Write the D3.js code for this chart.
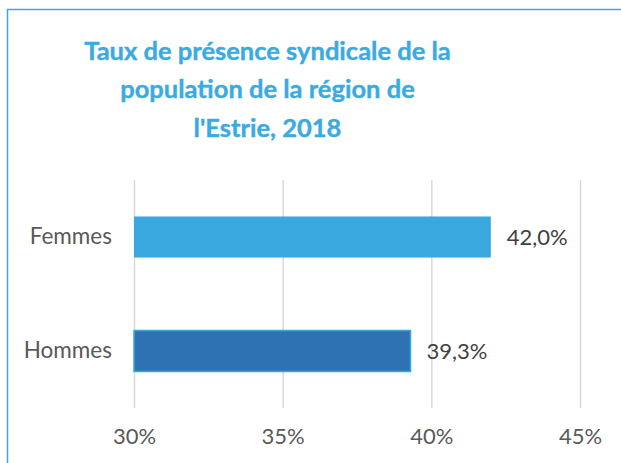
<!DOCTYPE html>
<html>
<head>
<meta charset="utf-8">
<script src="https://cdn.jsdelivr.net/npm/d3@7"></script>
<style>
  html, body { margin: 0; padding: 0; background: #fff; }
  svg { display: block; }
  text { font-family: Lato, "Open Sans", sans-serif; }
</style>
</head>
<body>
<svg id="chart" width="621" height="463"></svg>
<script>
const categories = ["Femmes", "Hommes"];
const values = [42.0, 39.3];
const barColors = ["#38a8df", "#2e72b4"];
const tickValues = [30, 35, 40, 45];
const titleLines = ["Taux de présence syndicale de la", "population de la région de", "l'Estrie, 2018"];

const svg = d3.select("#chart");
const margin = {left: 134, right: 41, top: 180, bottom: 55};
const width = 621, height = 463;

const x = d3.scaleLinear()
  .domain([30, 45])
  .range([margin.left, width - margin.right]);

const y = d3.scaleBand()
  .domain(categories)
  .range([margin.top, height - margin.bottom])
  .paddingInner(0.64)
  .paddingOuter(0.32);

const fr = d3.formatLocale({decimal: ",", thousands: " ", grouping: [3], currency: ["", " $"]});
const fmt = fr.format(".1f");

// chart border (only left and top fall in the frame)
svg.append("path")
  .attr("d", "M7.5,463V9.5H621")
  .attr("fill", "none")
  .attr("stroke", "#3aa8df")
  .attr("stroke-width", 1.5);

// title
svg.append("g").selectAll("text").data(titleLines)
  .join("text")
  .attr("x", 267.5)
  .attr("y", (d, i) => 59.5 + i * 38.7)
  .attr("text-anchor", "middle")
  .attr("font-size", 25.5)
  .attr("font-weight", "bold")
  .attr("fill", "#3aabe2")
  .attr("stroke", "#3aabe2")
  .attr("stroke-width", 0.4)
  .text(d => d);

// gridlines
svg.append("g")
  .attr("transform", `translate(0,${height - margin.bottom})`)
  .call(d3.axisBottom(x).tickValues(tickValues).tickSize(-(height - margin.bottom - margin.top)).tickFormat(""))
  .call(g => g.select(".domain").remove())
  .call(g => g.selectAll("line").attr("stroke", "#d9d9d9").attr("stroke-width", 1.5));

// x axis labels
svg.append("g")
  .attr("transform", `translate(0,${height - margin.bottom})`)
  .call(d3.axisBottom(x).tickValues(tickValues).tickSize(0).tickPadding(20).tickFormat(d => d + "%"))
  .call(g => g.select(".domain").remove())
  .call(g => g.selectAll("text")
    .attr("font-family", "Lato, sans-serif")
    .attr("font-size", 22)
    .attr("fill", "#595959"));

// bars
svg.append("g").selectAll("rect").data(categories)
  .join("rect")
  .attr("x", x(30))
  .attr("y", d => y(d))
  .attr("width", (d, i) => x(values[i]) - x(30))
  .attr("height", y.bandwidth())
  .attr("fill", (d, i) => barColors[i])
  .attr("stroke", (d, i) => i === 1 ? "#3aa8df" : "none")
  .attr("stroke-width", 1.5);

// category labels
svg.append("g")
  .attr("transform", `translate(${margin.left},0)`)
  .call(d3.axisLeft(y).tickSize(0).tickPadding(22))
  .call(g => g.select(".domain").remove())
  .call(g => g.selectAll("text")
    .attr("font-family", "Lato, sans-serif")
    .attr("font-size", 22.5)
    .attr("fill", "#595959"));

// data labels
svg.append("g").selectAll("text").data(categories)
  .join("text")
  .attr("x", (d, i) => x(values[i]) + 16)
  .attr("y", d => y(d) + y.bandwidth() / 2)
  .attr("dy", "0.35em")
  .attr("font-size", 22)
  .attr("fill", "#404040")
  .text((d, i) => fmt(values[i]) + "%");
</script>
</body>
</html>
